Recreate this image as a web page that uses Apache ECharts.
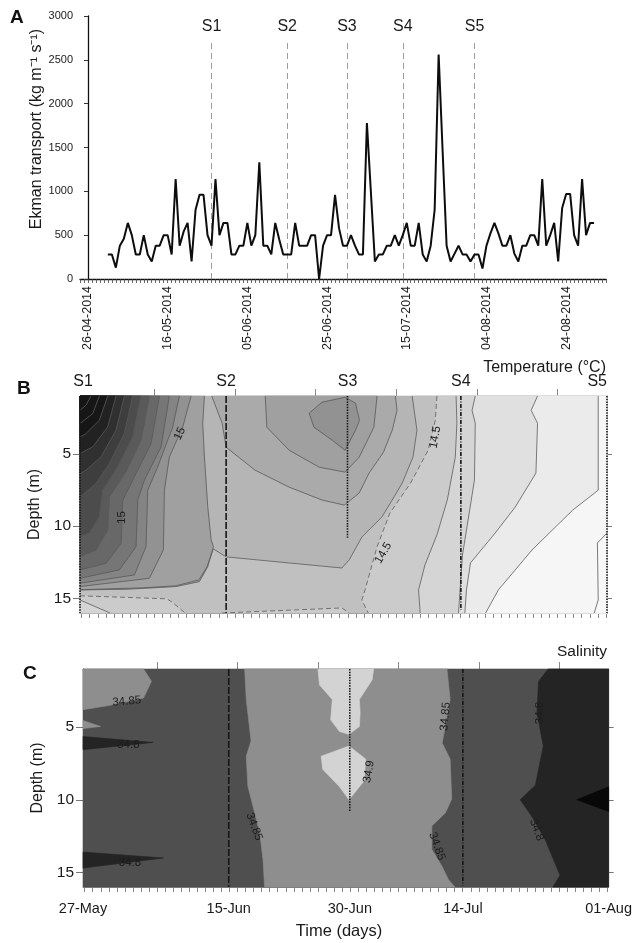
<!DOCTYPE html>
<html><head><meta charset="utf-8">
<script src="https://cdn.jsdelivr.net/npm/echarts@6/dist/echarts.min.js"></script>
<style>html,body{margin:0;padding:0;background:#fff}#c{width:635px;height:943px}</style>
</head><body><div id="c"></div>
<script>
// ================= Panel A : Ekman transport =================
const ekmanFirstDay = 5;              // days after 26-04-2014 (first value = 01-05-2014)
const ekmanTransport = [
 280,280,130,380,460,640,500,280,280,500,280,200,380,380,500,500,280,1140,380,540,
 640,200,790,960,960,500,380,1140,500,640,640,280,280,380,380,640,380,500,1330,380,
 380,280,640,450,280,280,280,640,380,380,380,500,500,0,380,500,500,960,580,380,
 380,500,380,280,280,1780,990,200,280,280,380,380,500,380,500,640,380,380,640,280,
 200,380,790,2560,1460,380,200,290,380,280,280,200,280,280,120,380,520,640,520,380,
 380,500,290,200,380,380,500,500,380,1140,380,500,640,200,810,970,970,500,380,1140,
 500,640,640];
const dateTickDays = [0,20,40,60,80,100,120];   // days after 26-04-2014
const stationNames = ['S1','S2','S3','S4','S5'];
const stationDays = [31,50,65,79,97];           // days after 26-04-2014
const stationLineTop = 2730;

// ================= Panels B / C : sections =================
const sectionStationPos = [0,18.3,33.5,47.7,66];
const sectionDateLabels = ['27-May','15-Jun','30-Jun','14-Jul','01-Aug'];
const sectionMajorTicks = [9.3,19.4,29.5,39.6,49.7,59.8];
const depthTicks = [5,10,15];
const tempProfileBottom = [16,16,10.8,15.8,16];
const salProfileBottom = [null,16,10.8,15.9,null];

// temperature contour layers (band = value of the filled band, contour = value of the boundary line)
const tempLayers = [
 {band:14.6, contour:null, path:[[0,1],[66,1],[66,16],[0,16]]},
 {band:14.5, contour:14.6, path:[[41.6,1],[42.2,3.37],[41.7,5.23],[40.35,7.02],[39.1,8.19],[37.8,9.37],[35.3,10.75],[33.7,12.34],[32.8,12.89],[26.2,12.54],[18.3,12.12],[16.7,11.57],[15.9,12.81],[14.9,13.71],[12.0,14.12],[7.9,14.26],[3.6,14.33],[0,14.4]], close:[[0,16],[66,16],[66,1]]},
 {band:14.4, contour:14.5, path:[[44.7,1],[44.5,2.68],[43.6,4.75],[41.4,7.02],[38.8,9.1],[37.2,11.43],[35.7,14.4],[35.3,15.1],[36.1,16]], close:[[66,16],[66,1]]},
 {band:14.4, contour:14.5, path:[[0,14.81],[10.9,15.02],[11.65,15.3],[13.16,16]], close:[[0,16]]},
 {band:14.4, contour:14.5, path:[[17.8,16],[32.8,15.65],[33.7,16]]},
 {band:14.3, contour:14.4, path:[[47.1,1],[47.2,2.88],[47.0,5.23],[46.0,8.19],[44.7,10.6],[43.2,12.68],[42.4,14.4],[42.6,16]], close:[[66,16],[66,1]]},
 {band:14.3, contour:14.4, path:[[0,15.1],[3.76,16]], close:[[0,16]]},
 {band:14.2, contour:14.3, path:[[49.5,1],[49.1,1.99],[49.5,2.88],[49.4,6.81],[48.7,9.23],[47.9,11.99],[47.6,14.4],[47.4,16]], close:[[66,16],[66,1]]},
 {band:14.1, contour:14.2, path:[[57.3,1],[56.5,1.99],[57.3,2.88],[57.1,6.33],[54.5,8.68],[52.0,10.47],[48.9,12.54],[48.4,14.4],[48.2,16]], close:[[66,16],[66,1]]},
 {band:14.0, contour:14.1, path:[[64.9,1],[64.9,7.51],[61.7,8.89],[56.6,11.65],[52.4,14.4],[50.8,16]], close:[[66,16],[66,1]]},
 {band:13.9, contour:14.0, path:[[66,10.47],[64.8,11.16],[64.9,15.1],[64.4,16]], close:[[66,16]]},
 {band:14.7, contour:14.7, path:[[16.5,1],[17.8,2.88],[18.3,4.54],[21.9,6.12],[26.2,7.3],[30.3,8.19],[33.1,8.54],[34.96,7.71],[36.2,6.33],[38.0,4.89],[39.1,3.37],[39.7,1.99],[39.5,1]]},
 {band:14.8, contour:14.8, path:[[23.2,1],[23.4,3.16],[26.2,4.75],[29.95,5.92],[33.2,6.26],[34.96,5.23],[36.8,3.16],[37.2,1]]},
 {band:14.9, contour:14.9, loop:true, path:[[28.7,2.19],[30.3,1.43],[33.2,1.09],[34.5,1.5],[35.0,2.68],[34.5,3.37],[33.2,4.75],[31.6,4.06],[29.3,3.16]]},
 {band:14.8, contour:14.8, path:[[15.58,1],[15.37,2.91],[15.58,5.21],[16.0,8.66],[16.42,10.95],[16.71,11.41],[16.0,12.79],[14.95,13.83],[12.03,14.17],[5.76,14.36],[0,14.4]], close:[[0,1]]},
 {band:14.9, contour:14.9, path:[[13.91,1],[12.87,3.14],[11.19,5.21],[10.57,7.51],[10.44,11.64],[8.69,13.6],[0,14.17]], close:[[0,1]]},
 {band:15.0, contour:15.0, path:[[12.45,1],[11.61,3.14],[9.73,5.9],[8.48,7.51],[8.27,11.41],[6.81,13.37],[0,13.94]], close:[[0,1]]},
 {band:15.1, contour:15.1, path:[[11.19,1],[10.15,4.52],[8.06,6.82],[7.23,8.2],[7.02,11.41],[4.93,13.02],[0,13.6]], close:[[0,1]]},
 {band:15.2, contour:15.2, path:[[9.94,1],[8.9,4.29],[6.81,6.59],[5.35,8.2],[5.14,11.18],[3.26,12.56],[0,13.02]], close:[[0,1]]},
 {band:15.3, contour:15.3, path:[[8.69,1],[7.64,4.06],[5.76,6.24],[3.68,7.97],[3.47,10.26],[2.0,11.64],[0,12.1]], close:[[0,1]]},
 {band:15.4, contour:15.4, path:[[7.64,1],[6.6,3.83],[4.72,5.9],[2.84,7.51],[2.42,9.34],[1.17,10.49],[0,10.72]], close:[[0,1]]},
 {band:15.5, contour:15.5, path:[[6.6,1],[5.56,3.6],[3.68,5.67],[2.0,7.05],[0,7.97]], close:[[0,1]]},
 {band:15.6, contour:15.6, path:[[5.56,1],[4.51,3.37],[2.63,5.21],[0.75,6.13],[0,6.36]], close:[[0,1]]},
 {band:15.7, contour:15.7, path:[[4.51,1],[3.47,3.14],[1.59,4.52],[0,4.98]], close:[[0,1]]},
 {band:15.8, contour:15.8, path:[[3.47,1],[2.42,2.68],[0.75,3.6],[0,3.83]], close:[[0,1]]},
 {band:15.9, contour:15.9, path:[[2.42,1],[1.59,2.22],[0,2.91]], close:[[0,1]]},
 {band:16.0, contour:16.0, path:[[1.38,1],[0.75,1.64],[0,1.99]], close:[[0,1]]}
];
const tempLabels = [
 {text:'15', u:12.5, d:3.6, angle:65},
 {text:'15', u:5.3, d:9.4, angle:90},
 {text:'14.5', u:44.5, d:3.85, angle:80},
 {text:'14.5', u:38.0, d:11.85, angle:60}
];

// salinity regions
const salLayers = [
 {band:34.8, path:[[0,1],[66,1],[66,16],[0,16]]},
 {band:34.85, path:[[7.6,1],[8.6,1.85],[7.6,3.0],[3.4,3.5],[0,3.8]], close:[[0,1]]},
 {band:34.85, path:[[0,4.55],[2.2,4.95],[0,5.1]]},
 {band:34.75, path:[[0,5.65],[8.8,6.05],[0,6.55]]},
 {band:34.75, path:[[0,13.6],[10.1,14.0],[0,14.7]]},
 {band:34.85, path:[[20.3,1],[20.5,3.1],[21.1,5.95],[20.5,7.0],[20.7,9.05],[22.2,12.3],[22.6,14.1],[22.8,16],[46.7,16],[45.9,15.5],[45.1,14.6],[43.8,13.4],[43.8,11.8],[45.5,10.9],[46.3,9.95],[46.1,7.2],[45.1,6.1],[45.5,4.9],[46.1,3.1],[45.7,1]]},
 {band:34.9, path:[[29.5,1],[36.5,1],[36.3,1.75],[34.7,3.1],[34.8,4.0],[34.7,4.95],[33.4,5.5],[32.2,5.3],[31.1,4.5],[31.3,3.1],[29.7,2.1]]},
 {band:34.9, path:[[29.9,7.0],[33.4,6.3],[35.5,7.2],[35.3,8.7],[33.4,10.0],[32.2,9.1],[30.1,7.9]]},
 {band:34.75, path:[[58.4,1],[57.2,1.85],[57.0,4.0],[57.8,6.3],[56.8,9.0],[54.9,10.0],[56.3,11.1],[58.0,12.7],[59.9,15.2],[59.0,16]], close:[[66,16],[66,1]]},
 {band:34.7, path:[[62.0,10.0],[66,9.1],[66,10.8]]}
];
const salLabels = [
 {text:'34.85', u:5.5, d:3.23, angle:5},
 {text:'34.8', u:5.7, d:6.2, angle:0},
 {text:'34.8', u:5.9, d:14.35, angle:0},
 {text:'34.85', u:21.5, d:11.85, angle:-70},
 {text:'34.9', u:35.9, d:8.06, angle:80},
 {text:'34.85', u:45.5, d:4.27, angle:85},
 {text:'34.85', u:44.45, d:13.2, angle:-70},
 {text:'34.8', u:57.4, d:4.03, angle:90},
 {text:'34.8', u:56.95, d:12.07, angle:-70}
];

// ================= helpers (style only) =================
const FONT = 'Liberation Sans, Arial, Helvetica, sans-serif';
function fmtDate(n){ const d=new Date(2014,3,26+n); const p=x=>String(x).padStart(2,'0'); return p(d.getDate())+'-'+p(d.getMonth()+1)+'-'+d.getFullYear(); }
function tempColor(v){
  let g = v>=14.8 ? 160-(v-14.8)*140 : 181-(v-14.6)*108;
  g=Math.round(Math.max(22,Math.min(248,g))); return 'rgb('+g+','+g+','+g+')'; }
const salPalette = {'34.7':'#080808','34.75':'#242424','34.8':'#4f4f4f','34.85':'#8e8e8e','34.9':'#d3d3d3'};
function salColor(v){ return salPalette[String(v)]; }
const minorTicks=[]; for(let v=sectionMajorTicks[0]-9*1.01; v<=66.01; v+=1.01) minorTicks.push(+v.toFixed(2));
const aTicks=[]; for(let v=-2; v<=130; v++) aTicks.push(v);

function fillSeries(layers,colorFn,xi,yi){
  return {type:'custom',coordinateSystem:'cartesian2d',xAxisIndex:xi,yAxisIndex:yi,silent:true,clip:false,z:2,
    data:layers.map(l=>l.path[0]),
    renderItem:(params,api)=>{const l=layers[params.dataIndex];
      const pts=l.path.concat(l.close||[]).map(p=>api.coord(p));
      return {type:'polygon',shape:{points:pts},style:{fill:colorFn(l.band),stroke:colorFn(l.band),lineWidth:0.6}};}};
}
function lineSeries(layers,xi,yi){
  return {type:'custom',coordinateSystem:'cartesian2d',xAxisIndex:xi,yAxisIndex:yi,silent:true,clip:false,z:3,
    data:layers.map(l=>l.path[0]),
    renderItem:(params,api)=>{const l=layers[params.dataIndex];
      if(l.contour==null) return {type:'group',children:[]};
      const path=l.loop?l.path.concat([l.path[0]]):l.path;
      return {type:'polyline',shape:{points:path.map(p=>api.coord(p))},
        style:{stroke:'#5a5a5a',lineWidth:0.8,fill:null,lineDash:l.contour===14.5?[5,3]:null}};}};
}
function labelSeries(labels,xi,yi){
  return {type:'custom',coordinateSystem:'cartesian2d',xAxisIndex:xi,yAxisIndex:yi,silent:true,clip:false,z:5,
    data:labels.map(l=>[l.u,l.d]),
    renderItem:(params,api)=>{const l=labels[params.dataIndex];const c=api.coord([l.u,l.d]);
      return {type:'text',x:c[0],y:c[1],rotation:l.angle*Math.PI/180,
        style:{text:l.text,fill:'#1c1c1c',fontSize:11.5,fontFamily:FONT,align:'center',verticalAlign:'middle'}};}};
}
function stationSeries(bottoms,xi,yi,withNames){
  return {type:'custom',coordinateSystem:'cartesian2d',xAxisIndex:xi,yAxisIndex:yi,silent:true,clip:false,z:6,
    data:sectionStationPos.map(p=>[p,1]),
    renderItem:(params,api)=>{const i=params.dataIndex;const kids=[];
      const top=api.coord([sectionStationPos[i],1]);
      if(bottoms[i]!=null){const b=api.coord([sectionStationPos[i],bottoms[i]]);
        kids.push({type:'line',shape:{x1:top[0],y1:top[1],x2:b[0],y2:b[1]},
          style:{stroke:'#161616',lineWidth:1.6,lineDash:i===1?[7,2]:(i===3?[4,1.5,1,1.5]:[1.5,1.2])}});}
      if(withNames){kids.push({type:'text',x:top[0]+(i===0?3:0),y:top[1]-14,
        style:{text:stationNames[i],fill:'#1a1a1a',fontSize:16,fontFamily:FONT,align:i===4?'right':'center',verticalAlign:'middle'}});}
      return {type:'group',children:kids};}};
}

const frameLine={show:true,onZero:false,lineStyle:{color:'#8a8a8a',width:1}};
function sectionAxesX(g,labels){
  return [
   {type:'value',gridIndex:g,min:0,max:66,position:'bottom',axisLine:frameLine,
    axisTick:{show:true,customValues:minorTicks,length:5,lineStyle:{color:'#888'}},
    axisLabel:labels?{show:true,customValues:sectionStationPos,formatter:v=>sectionDateLabels[sectionStationPos.indexOf(v)],fontSize:14.5,color:'#1a1a1a',margin:14,fontFamily:FONT}:{show:false},
    splitLine:{show:false}},
   {type:'value',gridIndex:g,min:0,max:66,position:'top',axisLine:frameLine,
    axisTick:{show:true,customValues:sectionMajorTicks,length:7,lineStyle:{color:'#888'}},
    axisLabel:{show:false},splitLine:{show:false}}
  ];
}
function sectionAxesY(g){
  return [
   {type:'value',gridIndex:g,min:1,max:16,inverse:true,position:'left',axisLine:frameLine,
    axisTick:{show:true,customValues:depthTicks,length:7,lineStyle:{color:'#777'}},
    axisLabel:{show:true,customValues:depthTicks,fontSize:15.5,color:'#1a1a1a',margin:9,fontFamily:FONT},
    splitLine:{show:false},
    name:'Depth (m)',nameLocation:'middle',nameGap:28,nameTextStyle:{fontSize:16,color:'#1a1a1a',fontFamily:FONT}},
   {type:'value',gridIndex:g,min:1,max:16,inverse:true,position:'right',axisLine:frameLine,
    axisTick:{show:true,customValues:depthTicks,length:5,lineStyle:{color:'#777'}},
    axisLabel:{show:false},splitLine:{show:false}}
  ];
}

const option = {
  animation:false,
  backgroundColor:'#fff',
  textStyle:{fontFamily:FONT},
  grid:[
    {left:80,top:16,width:526,height:263},
    {left:80,top:396,width:527,height:217},
    {left:83,top:669,width:528,height:218}
  ],
  xAxis:[
    {type:'value',gridIndex:0,min:-2,max:130,position:'bottom',
     axisLine:{show:true,onZero:false,lineStyle:{color:'#111',width:1.3}},
     axisTick:{show:true,customValues:aTicks,length:4,lineStyle:{color:'#444',width:0.8}},
     axisLabel:{show:true,customValues:dateTickDays,rotate:90,formatter:fmtDate,fontSize:12.5,color:'#1a1a1a',margin:7,fontFamily:FONT},
     splitLine:{show:false}},
    ...sectionAxesX(1,false),
    ...sectionAxesX(2,true)
  ],
  yAxis:[
    {type:'value',gridIndex:0,min:0,max:3000,interval:500,
     axisLine:{show:true,lineStyle:{color:'#111',width:1.3}},
     axisTick:{show:true,length:4,lineStyle:{color:'#333'}},
     axisLabel:{fontSize:11,color:'#1a1a1a',margin:7,fontFamily:FONT,formatter:v=>String(v)},
     splitLine:{show:false}},
    ...sectionAxesY(1),
    ...sectionAxesY(2)
  ],
  graphic:[
    {type:'text',left:10,top:8,style:{text:'A',fontSize:19,fontWeight:'bold',fill:'#111',fontFamily:FONT}},
    {type:'text',left:17,top:379,style:{text:'B',fontSize:19,fontWeight:'bold',fill:'#111',fontFamily:FONT}},
    {type:'text',left:23,top:664,style:{text:'C',fontSize:19,fontWeight:'bold',fill:'#111',fontFamily:FONT}},
    {type:'text',x:37,y:129,rotation:Math.PI/2,style:{text:'Ekman transport (kg m\u207B\u00B9 s\u207B\u00B9)',fontSize:16,fill:'#1a1a1a',fontFamily:FONT,align:'center',verticalAlign:'middle'}},
    {type:'text',x:606,y:368,style:{text:'Temperature (\u00B0C)',fontSize:16,fill:'#1a1a1a',fontFamily:FONT,align:'right',verticalAlign:'middle'}},
    {type:'text',x:607,y:652,style:{text:'Salinity',fontSize:15.5,fill:'#1a1a1a',fontFamily:FONT,align:'right',verticalAlign:'middle'}},
    {type:'text',x:339,y:931,style:{text:'Time (days)',fontSize:16.5,fill:'#1a1a1a',fontFamily:FONT,align:'center',verticalAlign:'middle'}}
  ],
  series:[
    {type:'line',xAxisIndex:0,yAxisIndex:0,symbol:'none',z:4,
     lineStyle:{color:'#0d0d0d',width:2},
     data:ekmanTransport.map((v,i)=>[ekmanFirstDay+i,v]),
     markLine:{silent:true,symbol:'none',animation:false,z:1,
       lineStyle:{color:'#9c9c9c',type:[6,4],width:1},
       label:{show:true,position:'end',formatter:'{b}',fontSize:16,color:'#1a1a1a',distance:5,fontFamily:FONT},
       data:stationDays.map((d,i)=>[{coord:[d,0],name:stationNames[i]},{coord:[d,stationLineTop]}])}},
    fillSeries(tempLayers,tempColor,1,1),
    lineSeries(tempLayers,1,1),
    labelSeries(tempLabels,1,1),
    stationSeries(tempProfileBottom,1,1,true),
    fillSeries(salLayers,salColor,3,3),
    labelSeries(salLabels,3,3),
    stationSeries(salProfileBottom,3,3,false)
  ]
};
const chart = echarts.init(document.getElementById('c'),null,{renderer:'canvas'});
chart.setOption(option);
</script></body></html>
